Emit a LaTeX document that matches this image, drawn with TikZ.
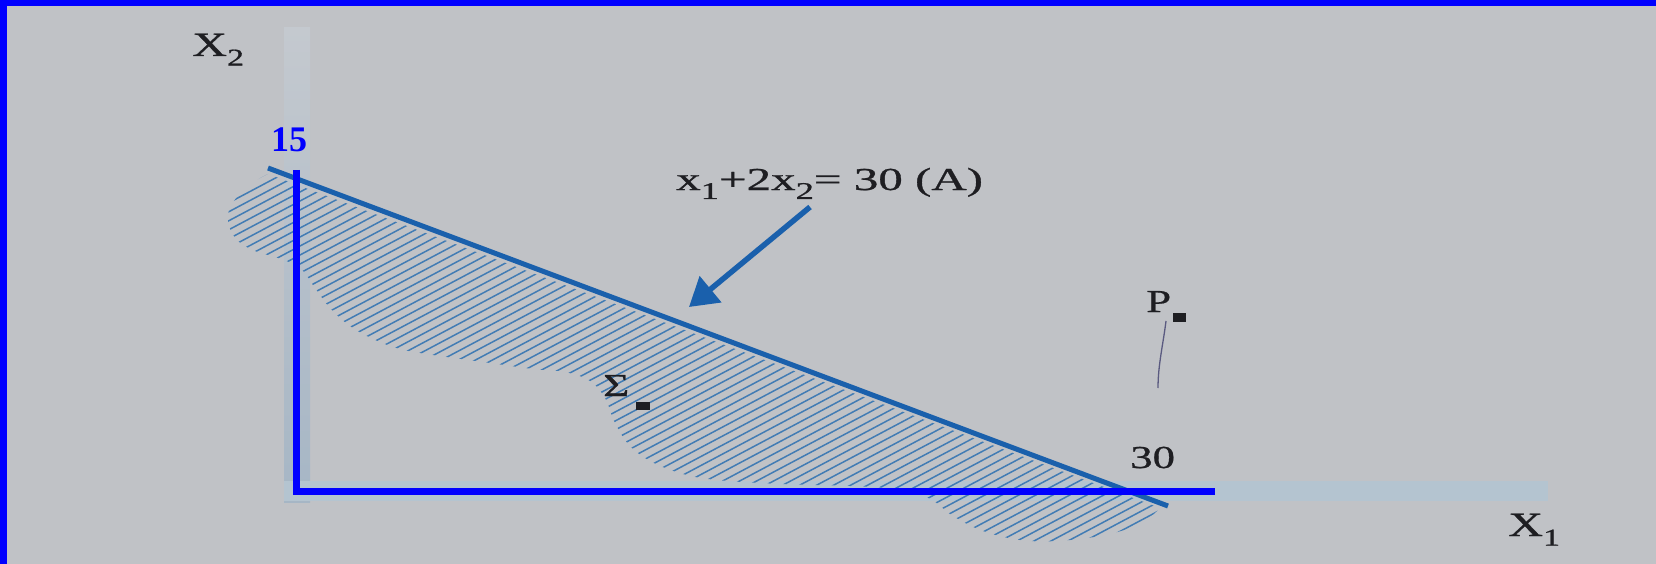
\documentclass[tikz,border=0pt]{standalone}
\usepackage{fontspec}
\setmainfont{Liberation Serif}
\newfontfamily\printfont{Liberation Serif}[FakeBold=0.7]
\usetikzlibrary{arrows.meta}
\definecolor{paper}{RGB}{192,194,198}
\definecolor{frameblue}{RGB}{0,0,255}
\definecolor{lineblue}{RGB}{26,96,172}
\definecolor{hatchblue}{RGB}{66,124,180}
\definecolor{faintTop}{RGB}{196,201,207}
\definecolor{faintBot}{RGB}{166,182,197}
\definecolor{faintH}{RGB}{180,196,208}
\definecolor{ink}{RGB}{30,30,34}
\definecolor{penink}{RGB}{90,90,128}
\newcommand{\lowsub}[1]{\raisebox{-0.28em}{\fontsize{24}{24}\selectfont #1}}
\tikzset{
  printed/.style={text=ink, inner sep=0pt, font=\printfont\fontsize{32}{38}\selectfont},
  axislab/.style={text=ink, inner sep=0pt, font=\printfont\fontsize{34}{40}\selectfont},
  overlaytext/.style={text=frameblue, inner sep=0pt, font=\fontsize{36}{42}\selectfont\bfseries},
  hatchline/.style={draw=hatchblue, line width=1.5pt},
  bluemark/.style={draw=frameblue, line width=7pt},
  constraint/.style={draw=lineblue, line width=5pt},
  callout/.style={draw=lineblue, line width=5.5pt, -{Triangle[length=28pt,width=33pt]}},
  dotmark/.style={fill=ink},
}
\begin{document}
\begin{tikzpicture}[x=1pt,y=-1pt]
\fill[paper] (0,0) rectangle (1656,564);
\useasboundingbox (0,0) rectangle (1656,564);
% faint printed axes
\shade[top color=faintTop, bottom color=faintBot] (284,28) rectangle (310,502);
\fill[faintH] (284,481) rectangle (1548,501);
% hatched region
\begin{scope}
\clip (268,174) -- (1160,508) -- plot[smooth, tension=0.6] coordinates {
 (1160,508) (1150,517) (1133,527) (1100,536) (1057,541) (1020,540) (983,531)
 (953,516) (932,500) (905,490) (850,486) (780,484) (717,480) (683,474)
 (652,462) (630,446) (615,423) (605,398) (590,381) (565,372) (533,369)
 (483,362) (433,355) (400,349) (373,339) (350,326) (330,308) (315,288)
 (300,268) (278,258) (255,251) (238,241) (229,226) (229,210) (238,196)
 (254,182) (268,174)} -- cycle;
\foreach \c in {270,279,...,1200} \draw[hatchline] (200,\c-106) -- (1220,\c-646.6);
\end{scope}
% constraint line
\coordinate (Lstart) at (268,168);
\coordinate (Lend) at (1168,506);
\draw[constraint] (Lstart) -- (Lend);
% callout arrow
\coordinate (arrTail) at (810,207);
\coordinate (arrTip) at (689,307);
\draw[callout] (arrTail) -- (arrTip);
% blue overlay axes
\coordinate (Ytop) at (296,170);
\coordinate (O) at (296,491);
\coordinate (Xend) at (1215,491);
\draw[bluemark] (Ytop) -- (O) -- (Xend);
% frame (top and left edges)
\fill[frameblue] (0,0) rectangle (1656,6);
\fill[frameblue] (0,0) rectangle (7,564);
% texts
\node[axislab, anchor=base west] (x2lab) at (192,56) {\scalebox{1.42}[1]{X\lowsub{2}}};
\node[axislab, anchor=base west] (x1lab) at (1508,536) {\scalebox{1.42}[1]{X\lowsub{1}}};
\node[overlaytext, anchor=base west] (fifteen) at (271,152) {15};
\node[printed, anchor=base west] (thirty) at (1130,468) {\scalebox{1.4}[1]{30}};
\node[printed, anchor=base west] (eqlab) at (676,190) {\scalebox{1.53}[1]{x\lowsub{1}+2x\lowsub{2}= 30 (A)}};
\node[printed, anchor=base west] (plab) at (1146,312) {\scalebox{1.4}[1]{P}};
\node[printed, anchor=base west] (slab) at (603,396) {\scalebox{1.4}[1]{Σ}};
\fill[dotmark] (1173,313) rectangle (1186,322);
\fill[dotmark] (636,402) rectangle (650,410);
% pen stroke
\draw[penink, line width=1.3pt] (1166,321) .. controls (1163,345) and (1158,365) .. (1158,388);
\end{tikzpicture}
\end{document}
